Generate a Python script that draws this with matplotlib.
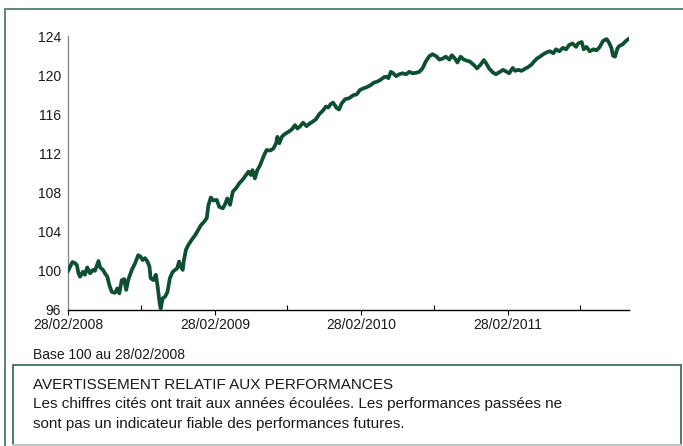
import matplotlib
matplotlib.use("Agg")
import matplotlib.pyplot as plt
import matplotlib.dates as mdates
from matplotlib import font_manager
from matplotlib.patches import Rectangle
from matplotlib.lines import Line2D
import numpy as np

# base 100 au 28/02/2008
BASE_DATE = "2008-02-28"
DAYS = [0, 11, 17, 22, 26, 30, 37, 42, 48, 55, 62, 67, 76, 80, 87, 92, 98,
        103, 109, 117, 123, 128, 134, 140, 145, 150, 159, 167, 175, 181, 186,
        192, 198, 203, 206, 213, 219, 223, 228, 231, 236, 242, 248, 254, 261,
        267, 272, 277, 281, 286, 289, 294, 300, 308, 317, 325, 332, 339, 346,
        350, 356, 362, 371, 377, 386, 391, 397, 404, 411, 419, 427, 436, 444,
        450, 456, 460, 466, 472, 479, 487, 495, 504, 512, 519, 522, 527, 533,
        541, 549, 558, 566, 572, 578, 586, 595, 602, 610, 618, 627, 635, 643,
        649, 655, 661, 670, 676, 682, 691, 701, 711, 720, 728, 736, 746, 755,
        763, 771, 780, 788, 794, 799, 805, 811, 818, 826, 834, 843, 851, 859,
        868, 876, 884, 892, 901, 909, 918, 926, 934, 942, 951, 957, 965, 971,
        979, 987, 994, 1002, 1012, 1020, 1029, 1037, 1043, 1050, 1059, 1067,
        1077, 1085, 1094, 1100, 1109, 1115, 1123, 1131, 1139, 1148, 1156,
        1162, 1169, 1177, 1185, 1194, 1202, 1210, 1217, 1225, 1234, 1242,
        1250, 1258, 1267, 1272, 1281, 1286, 1293, 1301, 1310, 1318, 1326,
        1334, 1343, 1349, 1355, 1359, 1364, 1370, 1375, 1383, 1391, 1399]
VALUES = [100.0, 100.9, 100.8, 100.6, 99.75, 99.4, 99.9, 99.6, 100.35, 99.75,
          100.1, 100.0, 101.0, 100.35, 100.1, 99.75, 99.4, 98.55, 97.85, 97.75,
          98.2, 97.7, 99.05, 99.15, 98.05, 99.05, 100.1, 100.75, 101.6, 101.45,
          101.1, 101.3, 100.95, 100.45, 99.25, 99.05, 99.6, 98.55, 96.85, 96.15,
          97.2, 97.35, 97.85, 99.25, 99.9, 100.1, 100.25, 100.95, 100.45, 100.1,
          101.1, 102.15, 102.65, 103.15, 103.65, 104.2, 104.7, 105.0, 105.4,
          106.7, 107.5, 107.2, 107.25, 106.55, 106.4, 106.75, 107.4, 106.75,
          108.1, 108.45, 108.95, 109.35, 109.8, 110.15, 109.8, 110.3, 109.45,
          110.3, 110.8, 111.65, 112.35, 112.3, 112.5, 113.05, 113.7, 113.05,
          113.7, 114.0, 114.2, 114.45, 114.9, 114.55, 114.75, 115.15, 114.8,
          115.05, 115.25, 115.5, 116.05, 116.35, 116.8, 116.7, 117.05, 117.2,
          116.65, 116.5, 117.1, 117.55, 117.65, 117.95, 118.05, 118.5, 118.65,
          118.8, 119.0, 119.25, 119.35, 119.55, 119.8, 119.85, 119.7, 120.35,
          120.2, 119.9, 120.1, 120.2, 120.1, 120.35, 120.2, 120.25, 120.35,
          120.7, 121.4, 121.95, 122.15, 121.95, 121.6, 121.7, 121.9, 121.6,
          122.05, 121.7, 121.3, 121.9, 121.6, 121.5, 121.4, 121.05, 120.7,
          121.1, 121.55, 121.2, 120.7, 120.3, 120.1, 120.35, 120.55, 120.35,
          120.2, 120.75, 120.45, 120.55, 120.45, 120.65, 120.85, 121.1, 121.4,
          121.7, 121.9, 122.15, 122.35, 122.45, 122.25, 122.65, 122.45, 122.8,
          122.65, 123.1, 123.25, 122.9, 123.25, 123.4, 122.65, 122.9, 122.45,
          122.65, 122.55, 122.9, 123.5, 123.7, 123.35, 122.8, 122.0, 121.9,
          122.75, 123.0, 123.15, 123.5, 123.75]
MAJOR_TICKS = ["2008-02-28", "2009-02-28", "2010-02-28", "2011-02-28"]
MINOR_TICKS = ["2008-08-28", "2009-08-28", "2010-08-28", "2011-08-28"]
Y_TICKS = [96, 100, 104, 108, 112, 116, 120, 124]

NOTE = "Base 100 au 28/02/2008"
WARN_TITLE = "AVERTISSEMENT RELATIF AUX PERFORMANCES"
WARN_LINES = ["Les chiffres cités ont trait aux années écoulées. "
              "Les performances passées ne",
              "sont pas un indicateur fiable des performances futures."]

LINE = "#0c4f33"
FRAME = "#4f7d68"
INK = "#1a1a1a"

installed = {f.name for f in font_manager.fontManager.ttflist}
if "Liberation Sans Narrow" in installed:
    TICK_FONT, TICK_SIZE = ["Liberation Sans Narrow", "DejaVu Sans"], 12
else:
    TICK_FONT, TICK_SIZE = ["Liberation Sans", "DejaVu Sans"], 10
plt.rcParams["font.family"] = ["Liberation Sans", "DejaVu Sans"]

dates = np.datetime64(BASE_DATE) + np.array(DAYS, dtype="timedelta64[D]")

fig = plt.figure(figsize=(6.83, 4.46), dpi=100)
fig.patch.set_facecolor("white")
ax = fig.add_axes([0.0996, 0.305, 0.8214, 0.614])

ax.plot(dates, VALUES, color=LINE, linewidth=2.7, solid_joinstyle="round",
        zorder=3)

ax.set_ylim(96, 124)
ax.set_xlim(dates[0], dates[-1])
ax.set_yticks(Y_TICKS)
ax.set_xticks([np.datetime64(d) for d in MAJOR_TICKS])
ax.set_xticks([np.datetime64(d) for d in MINOR_TICKS], minor=True)
ax.xaxis.set_major_formatter(mdates.DateFormatter("%d/%m/%Y"))

for lab in ax.get_xticklabels() + ax.get_yticklabels():
    lab.set_family(TICK_FONT)
    lab.set_fontsize(TICK_SIZE)
    lab.set_color(INK)

ax.tick_params(axis="y", length=0, pad=5)
ax.tick_params(axis="x", which="major", direction="out", length=3.5,
               width=0.8, color="black", pad=2)
ax.tick_params(axis="x", which="minor", direction="in", length=3.5,
               width=0.8, color="black")

for side in ("top", "right"):
    ax.spines[side].set_visible(False)
ax.spines["left"].set_color("#8c8c8c")
ax.spines["left"].set_linewidth(1.0)
ax.spines["bottom"].set_color("black")
ax.spines["bottom"].set_linewidth(1.0)

# outer frame (cut by the image edges) and the warning box
fig.add_artist(Rectangle((0.0069, -0.1), 1.2, 1.0787, transform=fig.transFigure,
                         fill=False, edgecolor=FRAME, linewidth=1.3))
fig.add_artist(Rectangle((0.019, 0.0025), 0.9776, 0.1786,
                         transform=fig.transFigure, fill=False,
                         edgecolor="#3f6f5b", linewidth=1.3))
fig.add_artist(Line2D([0.019, 0.9966], [0.0025, 0.0025],
                      transform=fig.transFigure, color="#c9cfcc",
                      linewidth=1.3))

fig.text(0.0488, 0.1957, NOTE, fontsize=TICK_SIZE, family=TICK_FONT,
         color=INK, va="baseline")
fig.text(0.0488, 0.1271, WARN_TITLE, fontsize=11, color=INK, va="baseline")
fig.text(0.0488, 0.0845, WARN_LINES[0], fontsize=11, color=INK,
         va="baseline")
fig.text(0.0488, 0.0397, WARN_LINES[1], fontsize=11, color=INK,
         va="baseline")

fig.savefig("out.png", dpi=100, facecolor="white")
